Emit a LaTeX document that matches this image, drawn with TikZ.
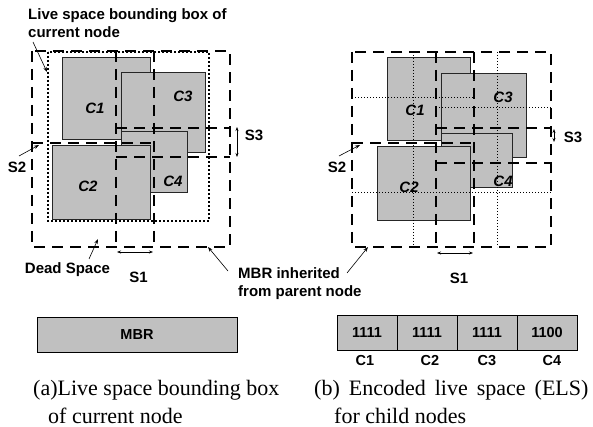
\documentclass[tikz,border=0pt]{standalone}
\usepackage{fontspec}
\setmainfont{Liberation Serif}
\setsansfont{Liberation Sans}
\usetikzlibrary{arrows.meta}
\definecolor{boxgray}{HTML}{C0C0C0}
\tikzset{
  childbox/.style={draw=black!85, line width=0.9pt, fill=boxgray},
  elsline/.style={line width=2.8pt, dash pattern=on 11pt off 7pt},
  liveline/.style={line width=2.2pt, dash pattern=on 2pt off 2pt},
  gridline/.style={line width=0.8pt, dash pattern=on 1pt off 2pt},
  lbl/.style={font=\fontsize{15}{18}\selectfont\sffamily\bfseries, inner sep=0pt},
  clbl/.style={font=\fontsize{15}{18}\selectfont\sffamily\bfseries\itshape, inner sep=0pt},
  sublbl/.style={font=\fontsize{14.5}{16}\selectfont\sffamily\bfseries, inner sep=0pt},
  cell/.style={draw=black, line width=0.9pt, fill=boxgray, minimum height=35pt, inner sep=0pt,
    font=\fontsize{14.5}{16}\selectfont\sffamily\bfseries},
  captext/.style={font=\fontsize{22}{26}\selectfont, inner sep=0pt, anchor=base west},
  ptr/.style={line width=0.6pt, -{Stealth[length=5pt,width=3.5pt]}},
  dimarrow/.style={line width=0.8pt, {Stealth[length=4pt,width=3pt]}-{Stealth[length=4pt,width=3pt]}},
}
\begin{document}
\begin{tikzpicture}[x=1pt,y=-1pt]
\useasboundingbox (0,0) rectangle (593,427);
\fill[white] (0,0) rectangle (593,427);

% ================= panel (a) =================
\draw[childbox] (62,57) rectangle (150,139);
\draw[childbox] (121,72) rectangle (205,152);
\draw[childbox] (121,131) rectangle (187,192);
\draw[childbox] (52,145) rectangle (150,219);
\node[clbl] (a1) at (95,108) {C1};
\node[clbl] (a3) at (183,96) {C3};
\node[clbl] (a2) at (88,186) {C2};
\node[clbl] (a4) at (173,181) {C4};
% live space bounding box
\draw[liveline] (48,52) rectangle (209,221);
% MBR and ELS partition lines
\draw[elsline] (32,51) rectangle (230,247);
\draw[elsline] (116,51) -- (116,247);
\draw[elsline] (154,51) -- (154,247);
\draw[elsline] (32,143) -- (154,143);
\draw[elsline] (116,128) -- (230,128);
\draw[elsline] (116,157) -- (230,157);

\node[lbl, align=left, anchor=west] (lsb) at (28,23) {Live space bounding box of\\current node};
\coordinate (lsbA) at (33,42);
\coordinate (lsbT) at (47,72);
\draw[ptr] (lsbA) -- (lsbT);

\node[lbl] (dead) at (67.5,270) {Dead Space};
\coordinate (deadA) at (89,259);
\coordinate (deadT) at (98,239);
\draw[ptr] (deadA) -- (deadT);

\node[lbl] (as2) at (17,167) {S2};
\coordinate (as2A) at (19,156);
\coordinate (as2T) at (39,145);
\draw[ptr] (as2A) -- (as2T);

\node[lbl] (as3) at (254,135) {S3};
\coordinate (as3a) at (237,127);
\coordinate (as3b) at (237,157);
\draw[dimarrow] (as3a) -- (as3b);

\node[lbl] (as1) at (138.5,277) {S1};
\coordinate (as1a) at (117,252);
\coordinate (as1b) at (153,252);
\draw[dimarrow] (as1a) -- (as1b);

\node[lbl, align=left, anchor=west] (mbrtxt) at (238,283.5) {MBR inherited\\from parent node};
\coordinate (mbrA1) at (228,271);
\coordinate (mbrT1) at (208,247);
\draw[ptr] (mbrA1) -- (mbrT1);
\coordinate (mbrA2) at (347,273);
\coordinate (mbrT2) at (368,247);
\draw[ptr] (mbrA2) -- (mbrT2);

% ================= panel (b) =================
\draw[childbox] (387,57) rectangle (470,140);
\draw[childbox] (441,73) rectangle (526,157);
\draw[childbox] (441,133) rectangle (512,187);
\draw[childbox] (377,146) rectangle (470,220);
\node[clbl] (b1) at (415,110) {C1};
\node[clbl] (b3) at (503,97) {C3};
\node[clbl] (b2) at (409,187) {C2};
\node[clbl] (b4) at (503,181) {C4};
% encoding grid
\draw[gridline] (413,52) -- (413,247);
\draw[gridline] (497,52) -- (497,247);
\draw[gridline] (352,97) -- (474,97);
\draw[gridline] (436,107) -- (551,107);
\draw[gridline] (352,192) -- (551,192);
% ELS boxes
\draw[elsline] (352,52) rectangle (551,247);
\draw[elsline] (436,52) -- (436,247);
\draw[elsline] (474,52) -- (474,247);
\draw[elsline] (352,143) -- (474,143);
\draw[elsline] (436,128) -- (551,128);
\draw[elsline] (436,163) -- (551,163);

\node[lbl] (bs2) at (337,167) {S2};
\coordinate (bs2A) at (339,156);
\coordinate (bs2T) at (360,145);
\draw[ptr] (bs2A) -- (bs2T);

\node[lbl] (bs3) at (573,137) {S3};
\coordinate (bs3a) at (554,129);
\coordinate (bs3b) at (554,142);
\draw[dimarrow] (bs3a) -- (bs3b);

\node[lbl] (bs1) at (459,278) {S1};
\coordinate (bs1a) at (437,253);
\coordinate (bs1b) at (473,253);
\draw[dimarrow] (bs1a) -- (bs1b);

% ================= bottom rows =================
\node[cell, minimum width=200pt] (mbrbox) at (137,334.5) {MBR};

\node[cell, minimum width=60pt] (e1) at (367,332.5) {1111};
\node[cell, minimum width=60pt] (e2) at (427,332.5) {1111};
\node[cell, minimum width=60pt] (e3) at (487,332.5) {1111};
\node[cell, minimum width=60pt] (e4) at (547,332.5) {1100};
\node[sublbl] (l1) at (365,361) {C1};
\node[sublbl] (l2) at (430,361) {C2};
\node[sublbl] (l3) at (487,361) {C3};
\node[sublbl] (l4) at (552,361) {C4};

\node[captext] (capa1) at (33,395) {(a)Live space bounding box};
\node[captext] (capa2) at (48,423) {of current node};
\node[captext] (capb1) at (314,395) {(b)\hspace{9pt}Encoded\hspace{9pt}live\hspace{9pt}space\hspace{9pt}(ELS)};
\node[captext] (capb2) at (334,423) {for child nodes};
\end{tikzpicture}
\end{document}
